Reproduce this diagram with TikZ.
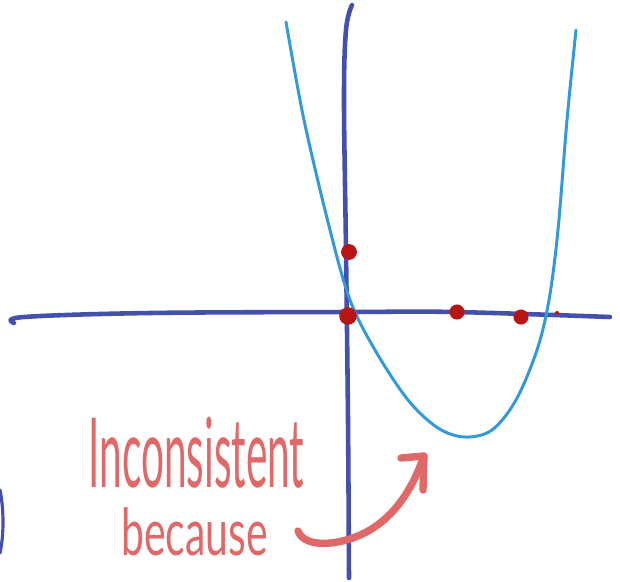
\documentclass[tikz,border=0pt]{standalone}
\usepackage{fontspec}
\usepackage{graphicx}
\setmainfont{Lato}
\definecolor{axisblue}{HTML}{4350AE}
\definecolor{curveblue}{HTML}{3399DD}
\definecolor{dotred}{HTML}{B81414}
\definecolor{pen}{HTML}{E06868}
\tikzset{
  axisline/.style={draw=axisblue, line width=2.6pt, line cap=round, line join=round},
  curveline/.style={draw=curveblue, line width=1.7pt, line cap=round},
  reddot/.style={circle, fill=dotred, inner sep=0pt},
  handtext/.style={text=pen, inner sep=0pt, text depth=0pt, font=\fontsize{55}{60}\selectfont},
  penline/.style={draw=pen, line width=4.2pt, line cap=round, line join=round}
}
\begin{document}
\begin{tikzpicture}[x=0.02cm,y=-0.02cm]
\useasboundingbox (0,0) rectangle (620,582);
% horizontal axis
\draw[axisline] plot[smooth, tension=0.6] coordinates {(14,323) (24,317) (150,313) (350,312) (455,312) (610,317)};
% vertical axis
\draw[axisline] plot[smooth, tension=0.6] coordinates {(352,5) (346,30) (344,100) (346,250) (348,420) (349,578)};
% left edge arc
\draw[axisline, line width=1.8pt] (0,490) .. controls (4,510) and (4,535) .. (0,553);
% parabola
\draw[curveline] plot[smooth, tension=0.55] coordinates {(286,22) (304,120) (330,230) (350,300) (375,350) (408,400) (438,428) (465,437) (492,430) (516,400) (537,350) (549,300) (558,230) (567,120) (576,30)};
% dots
\node[reddot, minimum size=9pt] (d1) at (349,252) {};
\node[reddot, minimum size=10pt] (d2) at (348,316) {};
\node[reddot, minimum size=8.6pt] (d3) at (457,312) {};
\node[reddot, minimum size=8.6pt] (d4) at (521,317) {};
\node[reddot, minimum size=2.3pt] (d5) at (557,313) {};
% text
\node[handtext, anchor=base west] (t1) at (88,487) {\scalebox{0.42}[1]{Inconsistent}};
\node[handtext, anchor=base west, font=\fontsize{37}{42}\selectfont] (t2) at (121,555) {\scalebox{0.63}[1]{because}};
% arrow
\coordinate (as) at (298,531);
\coordinate (ae) at (424,456);
\coordinate (hl) at (401,458);
\coordinate (hr) at (423,490);
\draw[penline] (as) .. controls (305,550) and (345,545) .. (370,530) .. controls (395,515) and (412,490) .. (ae);
\draw[penline] (hl) -- (ae) -- (hr);
\end{tikzpicture}
\end{document}
